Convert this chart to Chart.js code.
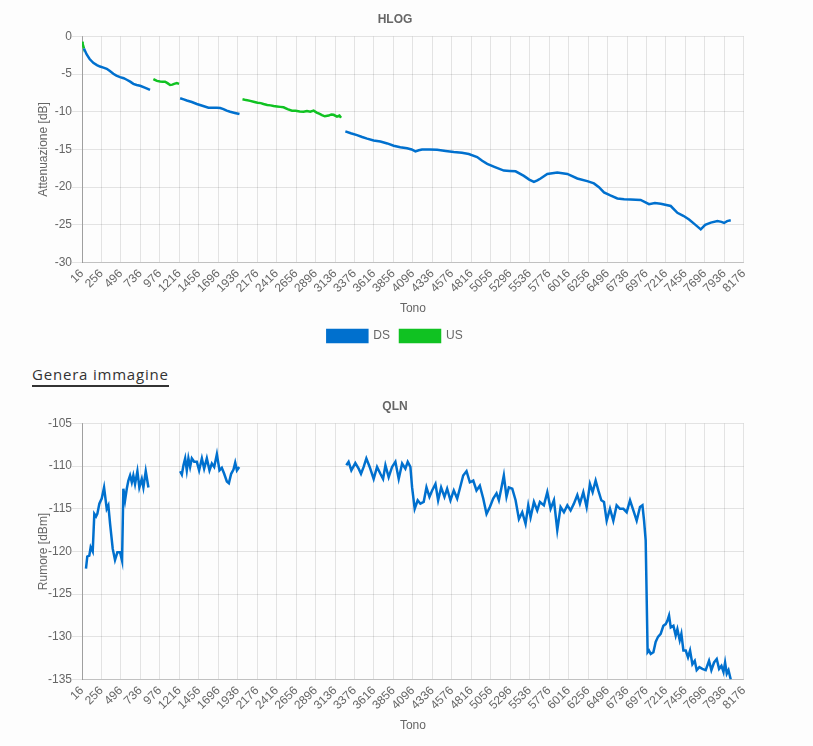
<!DOCTYPE html>
<html>
<head>
<meta charset="utf-8">
<script src="https://cdn.jsdelivr.net/npm/chart.js@4.4.1/dist/chart.umd.min.js"></script>
<style>
  body { margin: 0; background: #fdfdfd; }
  #wrap { position: relative; width: 813px; height: 746px; }
  .box { position: absolute; left: 32px; width: 726px; }
  #hlogBox { top: 2px; height: 350px; }
  #qlnBox { top: 389px; height: 348px; }
  #genera {
    position: absolute; left: 32px; top: 364px;
    font-family: 'Open Sans', sans-serif; font-size: 15px; letter-spacing: 0.8px;
    color: #333; padding-bottom: 1px; border-bottom: 2px solid #333;
  }
</style>
</head>
<body>
<div id="wrap">
  <div class="box" id="hlogBox"><canvas id="hlogchart"></canvas></div>
  <div id="genera">Genera immagine</div>
  <div class="box" id="qlnBox"><canvas id="qlnchart"></canvas></div>
</div>
<script>
  // Tick labels of the tone axis
  const xTicks = [16, 256, 496, 736, 976, 1216, 1456, 1696, 1936, 2176, 2416, 2656, 2896, 3136, 3376,
    3616, 3856, 4096, 4336, 4576, 4816, 5056, 5296, 5536, 5776, 6016, 6256, 6496, 6736, 6976,
    7216, 7456, 7696, 7936, 8176];

  // HLOG DS (null = band gap)
  const hlogDsTones = [40, 74, 110, 155, 200, 238, 280, 321, 360, 402, 440, 485, 530, 568, 610, 649, 690, 732, 790, 855,
    1000,
    1226, 1270, 1308, 1370, 1432, 1500, 1575, 1630, 1679, 1720, 1760, 1800, 1843, 1900, 1958,
    2500,
    3263, 3330, 3407, 3470, 3531, 3612, 3695, 3780, 3859, 3940, 4024, 4080, 4127, 4168, 4209, 4300, 4395, 4500,
    4600, 4700, 4785, 4888, 4950, 5012, 5100, 5217, 5290, 5362, 5464, 5530, 5588, 5630, 5670, 5753, 5876,
    6000, 6123, 6246, 6328, 6390, 6452, 6530, 6617, 6700, 6781, 6904, 7007, 7080, 7151, 7275, 7357, 7430,
    7501, 7580, 7645, 7700, 7769, 7851, 7900, 7933, 7970, 8015];
  const hlogDsValues = [-1.6, -2.4, -3.0, -3.5, -3.8, -4.0, -4.15, -4.3, -4.6, -4.95, -5.2, -5.4, -5.55, -5.75, -6.0, -6.3, -6.45, -6.55, -6.8, -7.1,
    null,
    -8.2, -8.35, -8.5, -8.7, -8.97, -9.2, -9.46, -9.45, -9.46, -9.5, -9.64, -9.85, -10.0, -10.15, -10.3,
    null,
    -12.6, -12.85, -13.1, -13.35, -13.56, -13.8, -13.95, -14.2, -14.5, -14.7, -14.85, -15.0, -15.25, -15.1, -15.0, -15.0, -15.05, -15.2,
    -15.35, -15.45, -15.6, -16.0, -16.5, -16.9, -17.3, -17.8, -17.85, -17.9, -18.5, -19.0, -19.3, -19.1, -18.85, -18.25, -18.05,
    -18.25, -18.85, -19.2, -19.5, -20.0, -20.7, -21.1, -21.5, -21.6, -21.65, -21.7, -22.25, -22.1, -22.2, -22.5, -23.4, -23.8,
    -24.3, -25.0, -25.6, -25.0, -24.7, -24.5, -24.6, -24.75, -24.5, -24.4];

  // HLOG US
  const hlogUsTones = [16, 24, 40,
    400,
    896, 940, 979, 1010, 1040, 1070, 1102, 1130, 1152, 1185, 1213,
    1600,
    1995, 2040, 2090, 2131, 2180, 2220, 2254, 2300, 2340, 2378, 2420, 2460, 2501, 2550, 2605, 2650, 2700,
    2748, 2790, 2830, 2872, 2910, 2940, 2975, 3010, 3057, 3090, 3118, 3160, 3190, 3210];
  const hlogUsValues = [-0.7, -1.0, -1.6,
    null,
    -5.66, -5.9, -5.98, -6.0, -6.0, -6.2, -6.45, -6.4, -6.3, -6.2, -6.3,
    null,
    -8.34, -8.45, -8.55, -8.66, -8.8, -8.85, -8.97, -9.1, -9.15, -9.24, -9.3, -9.35, -9.41, -9.65, -9.86, -9.85, -9.95,
    -10.0, -9.9, -10.0, -9.85, -10.1, -10.25, -10.44, -10.6, -10.5, -10.35, -10.4, -10.65, -10.5, -10.8];

  // QLN DS
  const qlnTones = [65, 81, 106, 123, 148, 168, 189, 205, 230, 259, 288, 321, 341, 362, 395, 423, 452, 485, 510,
    526, 547, 568, 588, 609, 630, 649, 670, 699, 723, 753, 773, 802, 835,
    1000,
    1226, 1247, 1267, 1288, 1308, 1328, 1349, 1370, 1399, 1432, 1460, 1494, 1522, 1555, 1588, 1617, 1646,
    1679, 1711, 1740, 1769, 1802, 1827, 1855, 1884, 1905, 1926, 1954,
    2500,
    3275, 3303, 3337, 3386, 3427, 3456, 3489, 3522, 3563, 3612, 3654, 3695, 3728, 3757, 3797, 3839, 3880,
    3921, 3963, 4003, 4032, 4065, 4086, 4118, 4155, 4188, 4229, 4263, 4300, 4333, 4374, 4407, 4444, 4485,
    4518, 4559, 4600, 4642, 4674, 4716, 4757, 4798, 4840, 4880, 4921, 4963, 5004, 5045, 5086, 5127, 5156,
    5185, 5217, 5250, 5279, 5321, 5362, 5403, 5444, 5485, 5518, 5547, 5588, 5629, 5662, 5711, 5753, 5794,
    5835, 5876, 5917, 5958, 6000, 6040, 6081, 6123, 6155, 6197, 6238, 6279, 6312, 6349, 6382, 6419, 6452,
    6485, 6526, 6567, 6608, 6649, 6691, 6732, 6773, 6814, 6855, 6896, 6926, 6946, 6966, 6990, 7007, 7028,
    7061, 7089, 7118, 7151, 7184, 7213, 7234, 7254, 7275, 7308, 7336, 7357, 7386, 7406, 7431, 7460, 7488,
    7513, 7542, 7571, 7595, 7628, 7665, 7706, 7747, 7776, 7809, 7842, 7871, 7900, 7925, 7945, 7966, 7987, 8015];
  const qlnValues = [-122.0, -120.6, -120.5, -119.5, -120.0, -115.6, -115.9, -115.6, -114.4, -113.8, -112.5, -115.0, -114.6, -116.75, -119.7, -121.0, -120.1, -120.1, -121.1,
    -112.65, -114.0, -112.65, -111.7, -111.1, -111.9, -111.1, -112.1, -110.6, -112.5, -111.5, -112.5, -110.6, -112.5,
    null,
    -110.6, -111.0, -109.9, -109.1, -110.5, -109.1, -110.1, -109.1, -109.5, -109.5, -110.5, -109.1, -110.3, -109.1, -110.5, -109.7, -110.1,
    -108.6, -110.5, -110.2, -110.9, -111.8, -112.0, -110.9, -110.4, -109.6, -110.5, -110.1,
    null,
    -109.9, -109.5, -110.5, -109.65, -110.3, -110.9, -110.1, -109.1, -110.1, -111.5, -110.1, -110.9, -111.5, -109.9, -111.3, -110.1, -109.5,
    -111.5, -109.7, -110.3, -109.5, -110.1, -112.5, -115.0, -114.0, -114.4, -114.2, -112.5, -113.6, -112.85, -112.1, -114.0, -112.5, -113.6,
    -112.65, -114.0, -112.85, -113.8, -112.65, -111.1, -110.6, -111.9, -111.7, -112.85, -112.3, -113.8, -115.6, -114.8, -113.8, -113.2, -114.0,
    -112.65, -111.1, -113.6, -112.5, -112.65, -114.0, -116.2, -115.4, -116.75, -114.6, -116.0, -114.2, -115.2, -114.2, -114.6, -113.05, -115.0,
    -114.0, -117.5, -114.8, -115.4, -114.6, -115.2, -114.4, -113.4, -114.4, -113.05, -114.8, -112.1, -113.05, -111.7, -112.85, -114.0, -114.2,
    -116.4, -115.0, -116.4, -114.6, -115.0, -115.0, -115.4, -114.0, -115.2, -116.4, -114.8, -114.6, -116.4, -118.7, -131.8, -131.6, -132.0,
    -131.8, -130.6, -130.0, -129.65, -128.7, -128.5, -128.1, -127.5, -128.9, -128.7, -129.85, -129.1, -130.4, -129.65, -131.6, -131.6, -132.4,
    -131.6, -133.2, -132.8, -133.9, -133.55, -133.75, -133.9, -132.8, -133.9, -133.0, -132.6, -133.75, -133.4, -134.1, -133.0, -134.3, -133.9, -135.0];

  const dsColor = 'rgb(0, 112, 206)';
  const usColor = 'rgb(16, 194, 34)';

  const toPoints = (tones, values) => tones.map((t, i) => ({ x: t, y: values[i] }));

  // shared tone axis
  const toneAxis = {
    type: 'linear',
    min: 16,
    max: 8176,
    afterBuildTicks: (axis) => { axis.ticks = xTicks.map(v => ({ value: v })); },
    ticks: { autoSkip: false, minRotation: 45, maxRotation: 45, padding: 4, callback: (v) => String(v) },
    grid: { color: 'rgba(0,0,0,0.1)', drawTicks: false },
    border: { color: 'rgba(0,0,0,0.15)' },
    title: { display: true, text: 'Tono', padding: { top: 2, bottom: 4 } }
  };

  // y axis with fixed width so both plots line up
  const yAxis = (min, max, text) => ({
    min: min, max: max,
    ticks: { stepSize: 5, padding: 0 },
    grid: { color: 'rgba(0,0,0,0.1)', tickLength: 10 },
    border: { color: 'rgba(0,0,0,0.3)' },
    title: { display: true, text: text },
    afterFit: (axis) => { axis.width = 50; }
  });

  // HLOG Chart
  const config_hlog = {
    type: 'line',
    data: {
      datasets: [{
        label: 'DS',
        data: toPoints(hlogDsTones, hlogDsValues),
        borderColor: dsColor,
        backgroundColor: dsColor,
        borderWidth: 2.5,
        pointRadius: 0
      }, {
        label: 'US',
        data: toPoints(hlogUsTones, hlogUsValues),
        borderColor: usColor,
        backgroundColor: usColor,
        borderWidth: 2.5,
        pointRadius: 0
      }]
    },
    options: {
      responsive: true,
      maintainAspectRatio: false,
      animation: false,
      plugins: {
        title: { display: true, text: 'HLOG' },
        legend: { position: 'bottom' },
        tooltip: { enabled: false }
      },
      scales: {
        x: toneAxis,
        y: yAxis(-30, 0, 'Attenuazione [dB]')
      }
    }
  };
  new Chart(document.getElementById('hlogchart'), config_hlog);

  // QLN Chart
  const config_qln = {
    type: 'line',
    data: {
      datasets: [{
        label: 'DS',
        data: toPoints(qlnTones, qlnValues),
        borderColor: dsColor,
        backgroundColor: dsColor,
        borderWidth: 2.5,
        pointRadius: 0
      }]
    },
    options: {
      responsive: true,
      maintainAspectRatio: false,
      animation: false,
      plugins: {
        title: { display: true, text: 'QLN' },
        legend: { display: false },
        tooltip: { enabled: false }
      },
      scales: {
        x: toneAxis,
        y: yAxis(-135, -105, 'Rumore [dBm]')
      }
    }
  };
  new Chart(document.getElementById('qlnchart'), config_qln);
</script>
</body>
</html>
